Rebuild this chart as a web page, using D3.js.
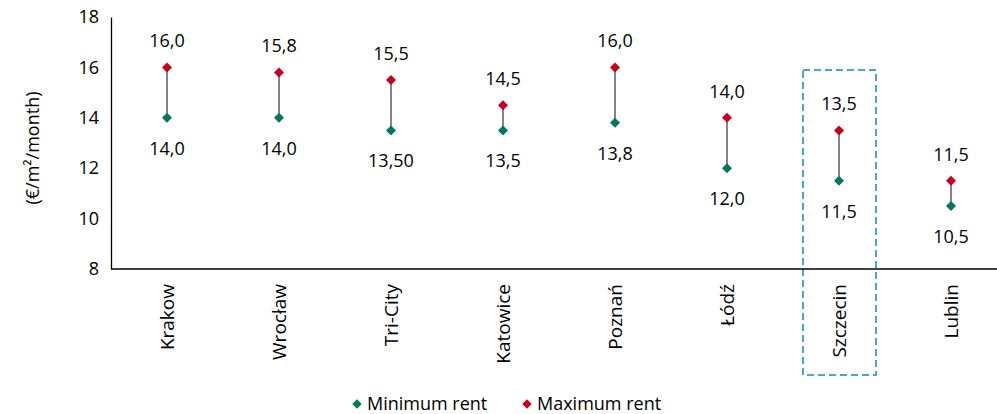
<!DOCTYPE html>
<html>
<head>
<meta charset="utf-8">
<script src="https://cdn.jsdelivr.net/npm/d3@7"></script>
<style>
  body { margin: 0; background: #fff; }
  svg text { font-family: "Open Sans", sans-serif; fill: #000; }
</style>
</head>
<body>
<svg id="chart" width="997" height="414"></svg>
<script>
// data
const cities = ['Krakow', 'Wrocław', 'Tri-City', 'Katowice', 'Poznań', 'Łódź', 'Szczecin', 'Lublin'];
const minRent = [14.0, 14.0, 13.5, 13.5, 13.8, 12.0, 11.5, 10.5];
const maxRent = [16.0, 15.8, 15.5, 14.5, 16.0, 14.0, 13.5, 11.5];
const minLabels = ['14,0', '14,0', '13,50', '13,5', '13,8', '12,0', '11,5', '10,5'];
const maxLabels = ['16,0', '15,8', '15,5', '14,5', '16,0', '14,0', '13,5', '11,5'];
const yTicks = [8, 10, 12, 14, 16, 18];
const highlighted = 'Szczecin';

const GREEN = '#00785c';
const RED = '#c8001e';

const svg = d3.select('#chart');

const x = d3.scaleBand().domain(cities).range([111, 1007]).padding(0);
const y = d3.scaleLinear().domain([8, 18]).range([269, 17]);

const rows = cities.map((c, i) => ({
  city: c, min: minRent[i], max: maxRent[i], minLabel: minLabels[i], maxLabel: maxLabels[i]
}));

// highlight box
const hx = x(highlighted) + x.bandwidth() / 2;
svg.append('rect')
  .attr('x', hx - 36).attr('y', 70)
  .attr('width', 73).attr('height', 305)
  .attr('fill', 'none')
  .attr('stroke', '#4aa8c8')
  .attr('stroke-width', 2)
  .attr('stroke-dasharray', '7,4');

// y axis
const yAxis = svg.append('g')
  .attr('transform', 'translate(111,0)')
  .call(d3.axisLeft(y).tickValues(yTicks).tickSize(0).tickPadding(12));
yAxis.select('.domain').attr('stroke', '#000').attr('stroke-width', 1.3);
yAxis.selectAll('text').style('font-size', '18px').attr('font-family', null);

// x axis
const xAxis = svg.append('g')
  .attr('transform', 'translate(0,269)')
  .call(d3.axisBottom(x).tickSize(0));
xAxis.select('.domain').attr('stroke', '#000').attr('stroke-width', 1.3).attr('d', 'M111,0H997');
xAxis.selectAll('text')
  .style('font-size', '19px')
  .attr('font-family', null)
  .attr('transform', 'rotate(-90)')
  .attr('x', -15).attr('y', 0).attr('dy', '0.35em')
  .attr('text-anchor', 'end');

// y title
svg.append('text')
  .attr('transform', 'translate(39,148) rotate(-90)')
  .attr('text-anchor', 'middle')
  .style('font-size', '18px')
  .text('(€/m²/month)');

const cx = d => x(d.city) + x.bandwidth() / 2;

// connector lines
svg.selectAll('.conn')
  .data(rows)
  .enter()
  .append('line')
  .attr('x1', cx).attr('x2', cx)
  .attr('y1', d => y(d.min)).attr('y2', d => y(d.max))
  .attr('stroke', '#333')
  .attr('stroke-width', 1.2);

const diamond = d3.symbol().type(d3.symbolSquare).size(50);

// min markers
svg.selectAll('.minpt')
  .data(rows)
  .enter()
  .append('path')
  .attr('d', diamond)
  .attr('transform', d => `translate(${cx(d)},${y(d.min)}) rotate(45)`)
  .attr('fill', GREEN);

// max markers
svg.selectAll('.maxpt')
  .data(rows)
  .enter()
  .append('path')
  .attr('d', diamond)
  .attr('transform', d => `translate(${cx(d)},${y(d.max)}) rotate(45)`)
  .attr('fill', RED);

// labels
svg.selectAll('.maxlbl')
  .data(rows)
  .enter()
  .append('text')
  .attr('x', cx)
  .attr('y', d => y(d.max) - 20)
  .attr('text-anchor', 'middle')
  .style('font-size', '18px')
  .text(d => d.maxLabel);

svg.selectAll('.minlbl')
  .data(rows)
  .enter()
  .append('text')
  .attr('x', cx)
  .attr('y', d => y(d.min) + 37)
  .attr('text-anchor', 'middle')
  .style('font-size', '18px')
  .text(d => d.minLabel);

// legend
const legend = [
  { name: 'Minimum rent', color: GREEN, x: 357 },
  { name: 'Maximum rent', color: RED, x: 527 }
];
const lg = svg.selectAll('.lg')
  .data(legend)
  .enter()
  .append('g')
  .attr('transform', d => `translate(${d.x},404)`);
lg.append('path')
  .attr('d', d3.symbol().type(d3.symbolSquare).size(45))
  .attr('transform', 'rotate(45)')
  .attr('fill', d => d.color);
lg.append('text')
  .attr('x', 10)
  .attr('dy', '0.35em')
  .style('font-size', '18px')
  .text(d => d.name);
</script>
</body>
</html>
